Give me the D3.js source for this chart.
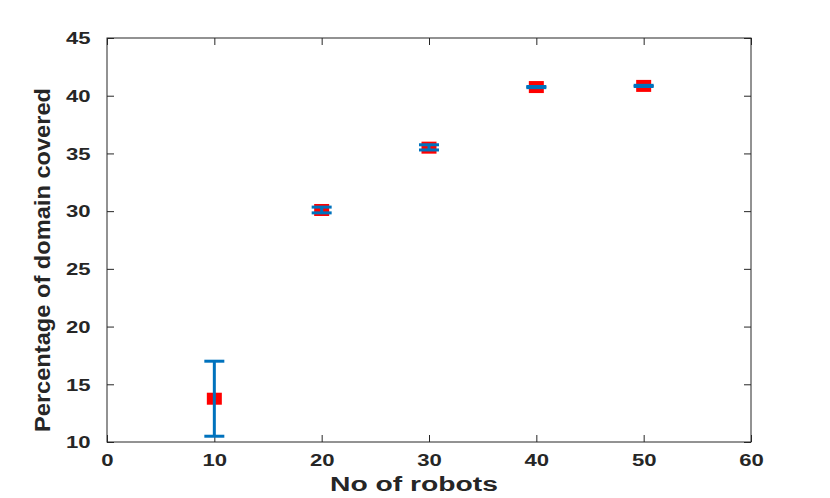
<!DOCTYPE html>
<html><head><meta charset="utf-8">
<script src="https://cdn.jsdelivr.net/npm/d3@7"></script>
<style>body{margin:0;background:#fff}svg{display:block}</style>
</head><body>
<svg id="chart" width="830" height="498"></svg>
<script>
const robots = [10, 20, 30, 40, 50];
const meanCoverage = [13.75, 30.1, 35.5, 40.75, 40.85];
const lowerBound = [10.5, 29.85, 35.3, 40.7, 40.8];
const upperBound = [17.0, 30.35, 35.75, 40.8, 40.9];
const xTicks = [0, 10, 20, 30, 40, 50, 60];
const yTicks = [10, 15, 20, 25, 30, 35, 40, 45];

const svg = d3.select("#chart");
const m = {l: 107, r: 751, t: 38, b: 442};
const x = d3.scaleLinear().domain([0, 60]).range([m.l, m.r]);
const y = d3.scaleLinear().domain([10, 45]).range([m.b, m.t]);
const axisCol = "#262626";
const font = "'Liberation Sans', Arial, Helvetica, sans-serif";
const stretch = 1.38;

function widen(sel) {
  sel.each(function() {
    const w = this.getComputedTextLength();
    d3.select(this).attr("textLength", w * stretch).attr("lengthAdjust", "spacingAndGlyphs");
  });
}

// box
svg.append("rect").attr("x", m.l).attr("y", m.t).attr("width", m.r - m.l).attr("height", m.b - m.t)
  .attr("fill", "none").attr("stroke", axisCol).attr("stroke-width", 1);

// axes
const xb = svg.append("g").attr("transform", `translate(0,${m.b})`)
  .call(d3.axisBottom(x).tickValues(xTicks).tickSize(-7).tickPadding(12).tickFormat(d3.format("d")));
const xt = svg.append("g").attr("transform", `translate(0,${m.t})`)
  .call(d3.axisTop(x).tickValues(xTicks).tickSize(-7).tickFormat(""));
const yl = svg.append("g").attr("transform", `translate(${m.l},0)`)
  .call(d3.axisLeft(y).tickValues(yTicks).tickSize(-7).tickPadding(16).tickFormat(d3.format("d")));
const yr = svg.append("g").attr("transform", `translate(${m.r},0)`)
  .call(d3.axisRight(y).tickValues(yTicks).tickSize(-7).tickFormat(""));
[xb, xt, yl, yr].forEach(g => {
  g.select(".domain").remove();
  g.selectAll(".tick line").attr("stroke", axisCol).attr("stroke-width", 1);
  g.selectAll(".tick text").attr("fill", axisCol).style("font-family", font)
    .style("font-size", "16px").style("font-weight", "bold");
});
yl.selectAll(".tick text").attr("x", -16.5).attr("dy", "0.36em");
xb.selectAll(".tick text").attr("dy", "0.72em");
widen(xb.selectAll(".tick text"));
widen(yl.selectAll(".tick text"));

// error bars
const blue = "#0072BD";
const capW = 10;
const eg = svg.append("g");
robots.forEach((r, i) => {
  const cx = x(r);
  eg.append("line").attr("x1", cx).attr("x2", cx).attr("y1", y(lowerBound[i])).attr("y2", y(upperBound[i]))
    .attr("stroke", blue).attr("stroke-width", 3);
});
// markers
svg.append("g").selectAll("rect").data(robots).join("rect")
  .attr("x", d => x(d) - 7.5).attr("y", (d, i) => y(meanCoverage[i]) - 6)
  .attr("width", 15).attr("height", 12).attr("fill", "#FF0000");
// caps
robots.forEach((r, i) => {
  const cx = x(r);
  [lowerBound[i], upperBound[i]].forEach(v => {
    eg.append("line").attr("x1", cx - capW).attr("x2", cx + capW).attr("y1", y(v)).attr("y2", y(v))
      .attr("stroke", blue).attr("stroke-width", 3);
  });
});
eg.raise();

// labels
svg.append("text").attr("x", 414).attr("y", 491).attr("text-anchor", "middle")
  .style("font-family", font).style("font-size", "19.5px").style("font-weight", "bold").attr("fill", axisCol)
  .attr("textLength", 168).attr("lengthAdjust", "spacingAndGlyphs")
  .text("No of robots");
svg.append("text").attr("transform", "translate(50,260) rotate(-90)").attr("text-anchor", "middle")
  .style("font-family", font).style("font-size", "22px").style("font-weight", "bold").attr("fill", axisCol)
  .attr("textLength", 344).attr("lengthAdjust", "spacingAndGlyphs")
  .text("Percentage of domain covered");
</script>
</body></html>
